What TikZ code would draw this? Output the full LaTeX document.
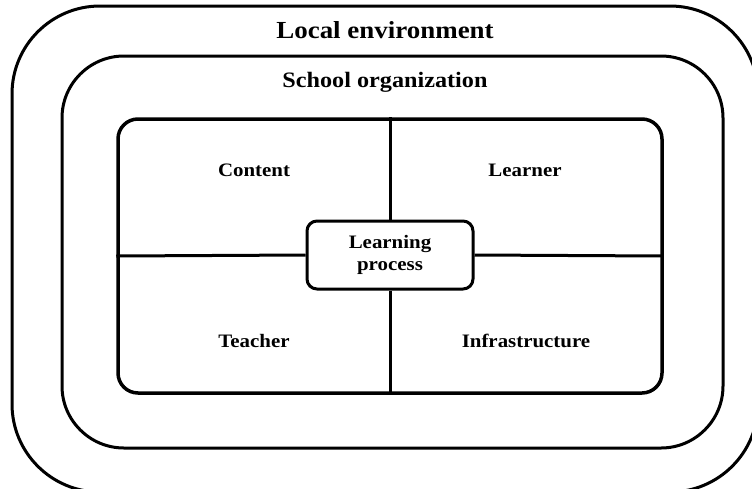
\documentclass[tikz,border=0pt]{standalone}
\usepackage{fontspec}
\setmainfont{Liberation Serif}[FakeStretch=1.1]
\begin{document}
\begin{tikzpicture}[x=1pt,y=-1pt,
  frame/.style={draw=black,line width=3pt,rounded corners=#1},
  lbl/.style={font=\bfseries\fontsize{19}{21}\selectfont,inner sep=0pt},
  link/.style={draw=black,line width=3pt}]
\useasboundingbox (0,0) rectangle (752,488);
\clip (0,0) rectangle (752,488);
\draw[frame=88] (12,6) rectangle (758,492);
\draw[frame=62] (62,56) rectangle (723,448);
\node[draw=black,line width=3.5pt,rounded corners=20,minimum width=544pt,minimum height=274pt,inner sep=0pt] (inner) at (390,256) {};
\node[draw=black,line width=3pt,rounded corners=10,minimum width=166pt,minimum height=68pt,inner sep=0pt,fill=white,align=center,font=\bfseries\fontsize{19}{22}\selectfont] (lp) at (390,255) {Learning\\process};
\draw[link] (inner.north) -- (lp.north);
\draw[link] (lp.south) -- (inner.south);
\draw[link] (inner.west) -- (lp.west);
\draw[link] (lp.east) -- (inner.east);
\node[font=\bfseries\fontsize{24.5}{26}\selectfont,inner sep=0pt] (local) at (385,30) {Local environment};
\node[font=\bfseries\fontsize{22}{24}\selectfont,inner sep=0pt] (school) at (385,82) {School organization};
\node[lbl] (content) at (254,170) {Content};
\node[lbl] (learner) at (525,170) {Learner};
\node[lbl] (teacher) at (254,341) {Teacher};
\node[lbl] (infra) at (526,341) {Infrastructure};
\end{tikzpicture}
\end{document}
